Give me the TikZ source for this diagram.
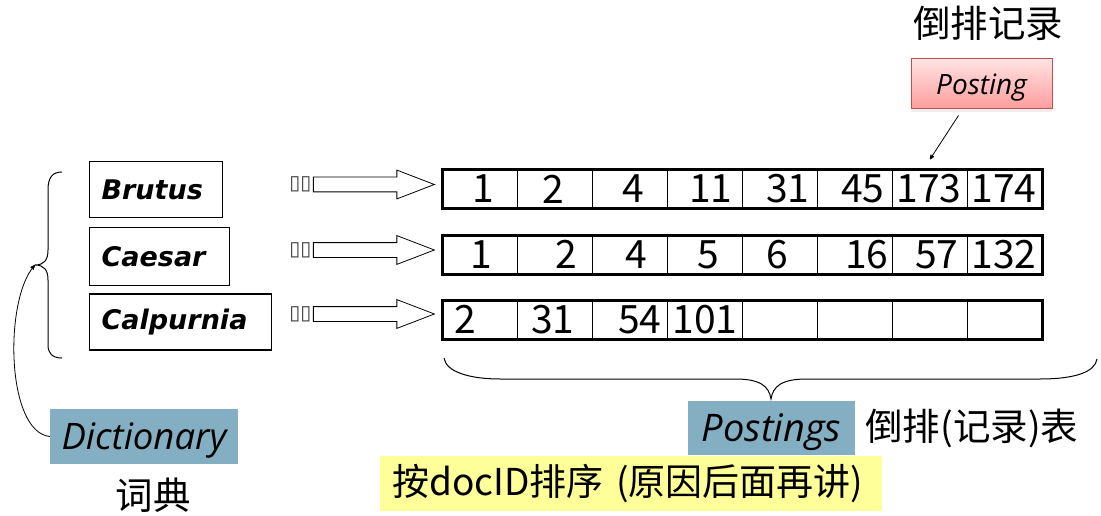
\documentclass[tikz,border=0pt]{standalone}
\usepackage{fontspec}
\setmainfont{DejaVu Sans}
\newfontfamily\cjk{Noto Sans CJK SC}
\newfontfamily\osans{Open Sans}
\usetikzlibrary{arrows,positioning,shapes.arrows,shadows,calc}
\definecolor{dictblue}{HTML}{84AEC2}
\definecolor{noteyellow}{HTML}{FFFF99}
\definecolor{postred}{HTML}{C0504D}
\definecolor{postlight}{HTML}{FFE3E3}
\definecolor{postdark}{HTML}{FF9C9C}
\tikzset{
	term/.style={
		draw,
		line width=1.2pt,
		anchor=north west,
		align=left,
		text width=#1,
		inner xsep=12pt,
		minimum height=56pt,
		font=\fontsize{27}{30}\selectfont\bfseries\itshape,
	},
	cell/.style={
		draw,
		line width=1pt,
		minimum width=74.9pt,
		minimum height=38pt,
		inner sep=0pt,
	},
	num/.style={
		inner sep=0pt,
		font=\cjk\fontsize{39}{40}\selectfont,
	},
	fatarrow/.style={
		single arrow,
		draw,
		line width=0.8pt,
		inner xsep=0pt,
		inner ysep=7pt,
		text height=0pt,
		text depth=0pt,
		minimum width=28pt,
		minimum height=121pt,
		single arrow head extend=7pt,
		single arrow tip angle=42,
	},
	tofu/.style={
		inner sep=0pt,
		text=black!75,
		font=\fontsize{20}{22}\selectfont,
	},
	label box/.style={
		fill=dictblue,
		inner sep=0pt,
		text depth=0pt,
		font=\osans\itshape\fontsize{36.5}{38}\selectfont,
	},
	cjktext/.style={
		inner sep=0pt,
		font=\cjk\fontsize{37.5}{40}\selectfont,
	},
}

\begin{document}
\begin{tikzpicture}[x=1pt,y=-1pt,>=stealth']
	\useasboundingbox (0,0) rectangle (1101,516);

	% dictionary terms
	\node [term=109pt] (brutus) at (89,161) {Brutus};
	\node [term=116pt,minimum height=58pt,below right=9pt and 0pt of brutus.south west] (caesar) {Caesar};
	\node [term=158pt,below right=7pt and 0pt of caesar.south west] (calpurnia) {Calpurnia};

	% postings lists
	\foreach \v/\dx [count=\i] in {1/2.5,2/-2.4,4/2.7,11/5.8,31/7.9,45/8,173/-0.9,174/-0.8} {
		\node [cell] (a\i) at (405.55+74.9*\i,189) {};
		\node [num] at ([xshift=\dx pt]a\i) {\v};
	}
	\foreach \v/\dx [count=\i] in {1/0.5,2/10.6,4/5.7,5/2.8,6/-3.1,16/12,57/7.1,132/-0.8} {
		\node [cell] (b\i) at (405.55+74.9*\i,254.5) {};
		\node [num] at ([xshift=\dx pt]b\i) {\v};
	}
	\foreach \v/\dx [count=\i] in {2/-15.5,31/-2.4,54/9.7,101/-0.2,{}/0,{}/0,{}/0,{}/0} {
		\node [cell] (c\i) at (405.55+74.9*\i,319.5) {};
		\node [num] at ([xshift=\dx pt]c\i) {\v};
	}
	\draw [line width=3pt] (a1.north west) rectangle (a8.south east);
	\draw [line width=3pt] (b1.north west) rectangle (b8.south east);
	\draw [line width=3pt] (c1.north west) rectangle (c8.south east);

	% pointers
	\node [fatarrow,left=7pt of a1.west,yshift=4.5pt] (arr1) {};
	\node [fatarrow,left=7pt of b1.west,yshift=4.5pt] (arr2) {};
	\node [fatarrow,left=7pt of c1.west,yshift=5.5pt] (arr3) {};
	\node [tofu,left=1.5pt of arr1.tail] (tofu1) {▯▯};
	\node [tofu,left=1.5pt of arr2.tail] (tofu2) {▯▯};
	\node [tofu,left=1.5pt of arr3.tail] (tofu3) {▯▯};

	% posting label
	\node [cjktext] (title) at (988,23) {倒排记录};
	\node [draw=postred,line width=1pt,top color=postlight,bottom color=postdark,
		drop shadow={shadow xshift=0pt,shadow yshift=-3pt,fill=black!12},
		minimum width=141pt,minimum height=50pt,text depth=0pt,
		font=\osans\itshape\fontsize{28}{30}\selectfont] (posting) at (981.5,84) {Posting};
	\draw [->,line width=0.8pt] ([xshift=-23pt,yshift=-6pt]posting.south) -- ([yshift=10pt]a7.north);

	% dictionary brace
	\coordinate (dicttip) at (35,265);
	\draw [line width=1pt] (62,172) .. controls (52,172) and (48,178) .. (48,190) -- (48,250)
		.. controls (48,260) and (44,265) .. (dicttip)
		.. controls (44,265) and (48,270) .. (48,280) -- (48,345)
		.. controls (48,353) and (52,358) .. (62,358);
	\node [label box,minimum width=188pt,minimum height=55pt] (dict) at (144,436.5) {Dictionary};
	\node [cjktext] (cidian) at (153,495) {词典};
	\draw [->,line width=0.8pt] (dict.west) .. controls (6,432) and (4,300) .. (dicttip);

	% postings brace
	\coordinate (posttip) at (771,399);
	\draw [line width=1pt] (444,358) .. controls (446,372) and (470,379) .. (500,379) -- (735,379)
		.. controls (760,379) and (769,386) .. (posttip)
		.. controls (773,386) and (782,379) .. (807,379) -- (1040,379)
		.. controls (1075,379) and (1095,372) .. (1097,359);
	\node [label box,minimum width=167pt,minimum height=54pt,font=\osans\itshape\fontsize{38}{40}\selectfont] (postings) at (771.5,428) {Postings};
	\node [cjktext,anchor=west] (postlist) at ([xshift=10pt]postings.east) {倒排(记录)表};

	% note
	\node [fill=noteyellow,anchor=west,inner xsep=12pt,minimum height=55pt,minimum width=502pt,
		align=left,text width=478pt,font=\cjk\fontsize{37}{40}\selectfont] (note) at (380,483.5)
		{按docID排序 (原因后面再讲)};
\end{tikzpicture}
\end{document}
